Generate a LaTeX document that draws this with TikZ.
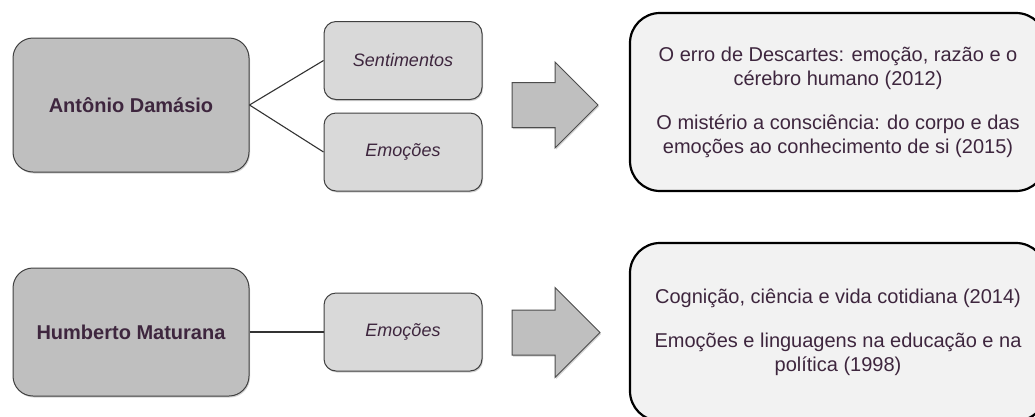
\documentclass[tikz,border=0pt]{standalone}
\usepackage{fontspec}
\setmainfont{Liberation Sans}
\usetikzlibrary{shadows}
\definecolor{txtpurple}{RGB}{62,38,62}
\definecolor{boxdark}{RGB}{191,191,191}
\definecolor{boxmid}{RGB}{217,217,217}
\definecolor{boxlight}{RGB}{242,242,242}
\tikzset{
  author/.style={draw=black!75,fill=boxdark,rounded corners=20pt,line width=1pt,
    minimum width=236pt,inner sep=0pt,text=txtpurple,
    font=\fontsize{20}{24}\selectfont\bfseries,
    drop shadow={shadow xshift=1pt,shadow yshift=-1.5pt,opacity=.35}},
  topic/.style={draw=black!75,fill=boxmid,rounded corners=12pt,line width=1pt,
    minimum width=158pt,minimum height=78pt,inner sep=0pt,text=txtpurple,
    font=\fontsize{18}{22}\selectfont\itshape,
    drop shadow={shadow xshift=1pt,shadow yshift=-1.5pt,opacity=.35}},
  works/.style={draw=black,fill=boxlight,rounded corners=30pt,line width=2.2pt,
    minimum width=416pt,inner sep=0pt,text=txtpurple,align=center,
    font=\fontsize{20}{24}\selectfont},
  bigarrow/.style={draw=black!70,fill=boxdark,line width=1pt,line join=miter,
    drop shadow={shadow xshift=1pt,shadow yshift=-1.5pt,opacity=.35}},
  link/.style={draw=black!80,line width=1.1pt}
}
\begin{document}
\begin{tikzpicture}[x=1pt,y=-1pt]
  \clip (0,0) rectangle (1035,416);
  \fill[white] (0,0) rectangle (1035,416);
  \node[author,minimum height=134pt] (damasio) at (131,105) {Antônio Damásio};
  \node[topic] (sentA) at (403,60.5) {Sentimentos};
  \node[topic] (emoA) at (403,152) {Emoções};
  \coordinate (arrowA) at (512,105);
  \path[bigarrow] (arrowA) ++(0,-22.5) -- ++(43,0) -- ++(0,-20.5) -- ++(43,43)
    -- ++(-43,43) -- ++(0,-20.5) -- ++(-43,0) -- cycle;
  \node[works,minimum height=178pt] (obrasA) at (838,102)
    {O erro de Descartes: emoção, razão e o\\cérebro humano (2012)\\[20pt]
     O mistério a consciência: do corpo e das\\emoções ao conhecimento de si (2015)};
  \node[author,minimum height=128pt] (maturana) at (131,332) {Humberto Maturana};
  \node[topic] (emoB) at (403,332) {Emoções};
  \coordinate (arrowB) at (512,332.5);
  \path[bigarrow] (arrowB) ++(0,-22.5) -- ++(43,0) -- ++(0,-22.5) -- ++(45,45)
    -- ++(-45,45) -- ++(0,-22.5) -- ++(-43,0) -- cycle;
  \node[works,minimum height=178pt] (obrasB) at (838,332)
    {Cognição, ciência e vida cotidiana (2014)\\[20pt]
     Emoções e linguagens na educação e na\\política (1998)};
  \draw[link] (damasio.east) -- (sentA.west);
  \draw[link] (damasio.east) -- (emoA.west);
  \draw[link] (maturana.east) -- (emoB.west);
\end{tikzpicture}
\end{document}
